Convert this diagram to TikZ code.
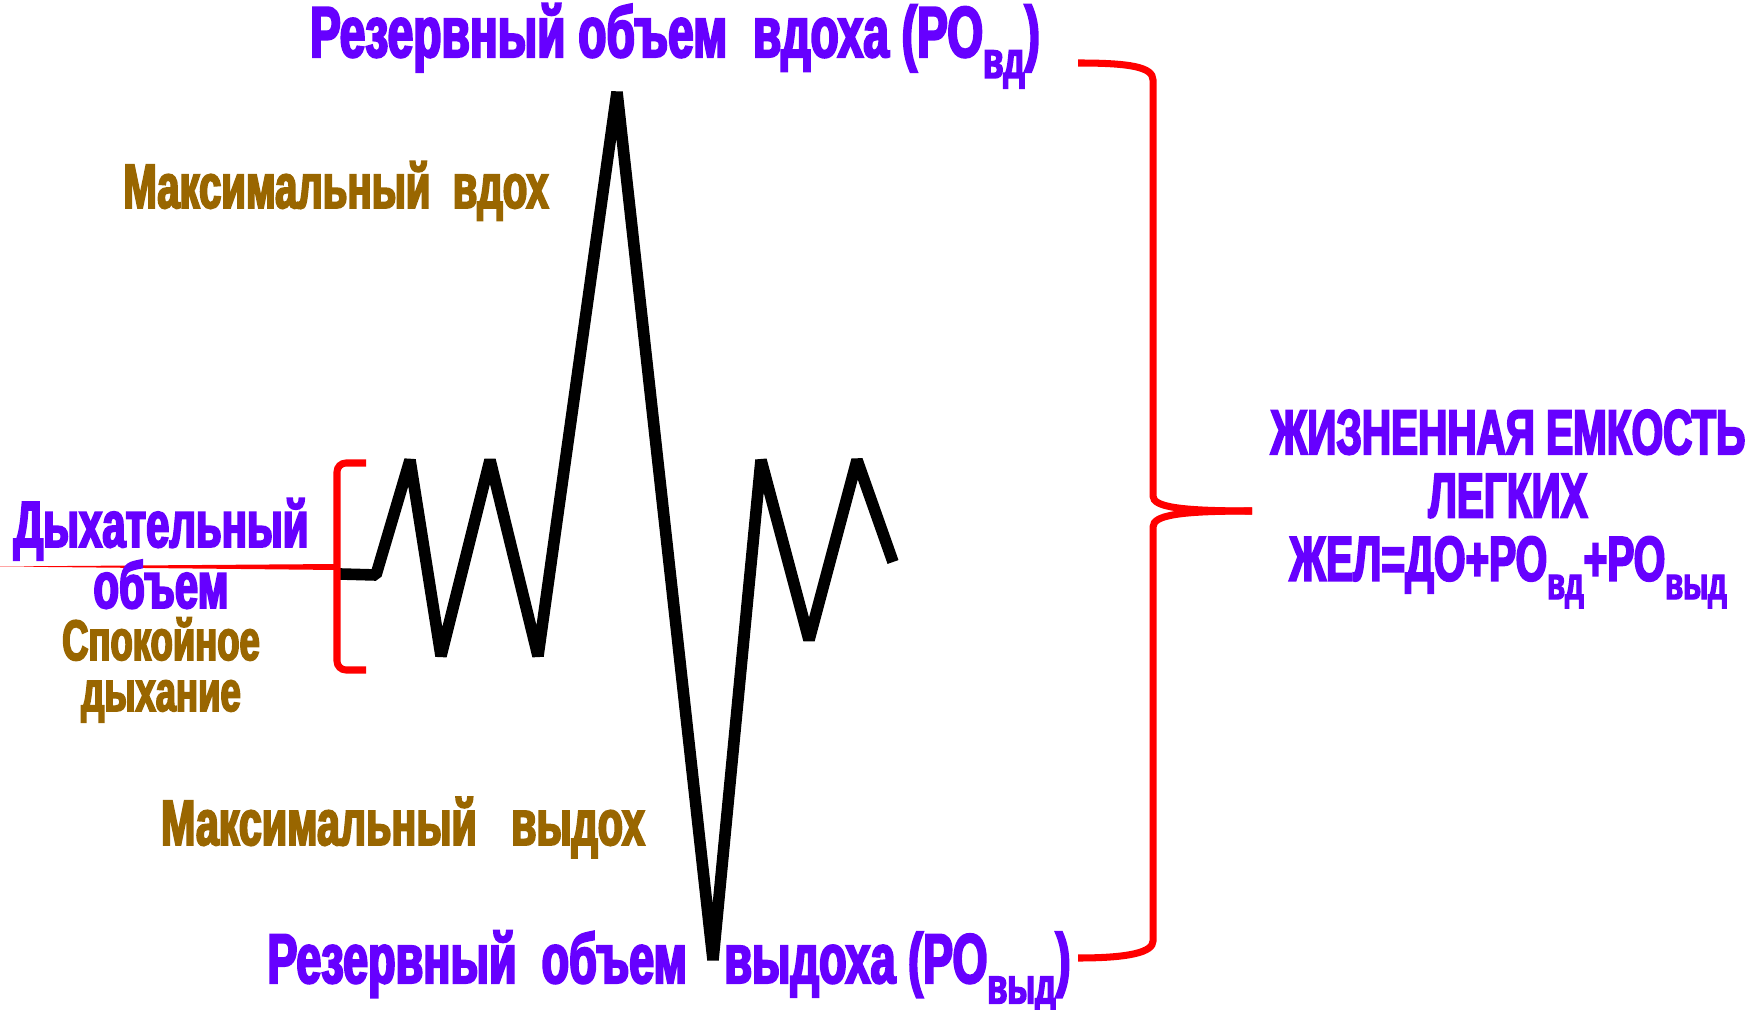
\documentclass[tikz,border=0pt]{standalone}
\usepackage{fontspec}
\setmainfont{Liberation Sans}[FakeStretch=0.64, BoldFeatures={FakeBold=3}]
\definecolor{VolPurple}{HTML}{6600FF}
\definecolor{NoteBrown}{HTML}{996600}
\definecolor{BraceRed}{HTML}{FF0000}
\newcommand{\lowidx}[1]{\raisebox{-0.55ex}{\scalebox{0.72}{#1}}}

\begin{document}
\begin{tikzpicture}[
  x=0.01cm, y=-0.01cm,
  spiro/.style={line width=3.3pt, line join=bevel, black},
  brace/.style={line width=2pt, BraceRed},
  voltext/.style={text=VolPurple, font=\bfseries, inner sep=0pt, align=center, anchor=base},
  breathtext/.style={text=NoteBrown, font=\bfseries, inner sep=0pt, align=center, anchor=base}
]
\useasboundingbox (0,0) rectangle (1761,1010);

% spirogram
\draw[spiro] (340,574) -- (376,575) -- (410,460) -- (441,656) -- (490,460)
  -- (538,656) -- (617,92) -- (713,960) -- (761,460) -- (809,640)
  -- (857,460) -- (893,562);

% small brace (tidal volume)
\fill[BraceRed] (0,566.5) -- (337,564) -- (337,570) -- cycle;
\draw[brace] (366,463) -- (346,463) to[out=180,in=90] (337,472) -- (337,661)
  to[out=-90,in=180] (346,670) -- (366,670);

% large brace (vital capacity)
\draw[brace] (1078,63) .. controls (1130,63) and (1153,67) .. (1153,80) -- (1153,496)
  .. controls (1153,507) and (1180,511) .. (1252,511);
\draw[brace] (1252,511) .. controls (1180,511) and (1153,515) .. (1153,527) -- (1153,941)
  .. controls (1153,952) and (1130,958) .. (1078,958);

% labels
\node[voltext, font=\bfseries\fontsize{20.5}{22}\selectfont] (rovd) at (675,57)
  {Резервный объем \ вдоха (РО\lowidx{вд})};
\node[breathtext, font=\bfseries\fontsize{17.8}{20}\selectfont] (maxin) at (336,208)
  {Максимальный \ вдох};
\node[voltext, font=\bfseries\fontsize{18.6}{20}\selectfont] (do1) at (161,547) {Дыхательный};
\node[voltext, font=\bfseries\fontsize{18.6}{20}\selectfont] (do2) at (161,608) {объем};
\node[breathtext, font=\bfseries\fontsize{16.2}{18}\selectfont] (calm1) at (161,660) {Спокойное};
\node[breathtext, font=\bfseries\fontsize{16.2}{18}\selectfont] (calm2) at (161,711) {дыхание};
\node[breathtext, font=\bfseries\fontsize{18.3}{20}\selectfont] (maxout) at (403,845)
  {Максимальный \ \ выдох};
\node[voltext, font=\bfseries\fontsize{20}{22}\selectfont] (rovyd) at (669,983)
  {Резервный \ объем \ \ выдоха (РО\lowidx{выд})};
\node[voltext, font=\bfseries\fontsize{18}{18}\selectfont, anchor=center] (zhel) at (1508,509)
  {ЖИЗНЕННАЯ ЕМКОСТЬ\\ЛЕГКИХ\\ЖЕЛ=ДО+РО\lowidx{вд}+РО\lowidx{выд}};
\end{tikzpicture}
\end{document}
